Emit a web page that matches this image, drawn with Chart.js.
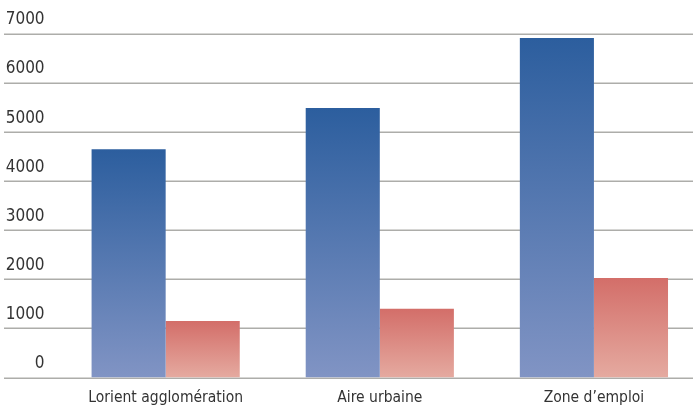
<!DOCTYPE html>
<html>
<head>
<meta charset="utf-8">
<script src="https://cdn.jsdelivr.net/npm/chart.js@4/dist/chart.umd.min.js"></script>
<style>
  html, body { margin: 0; padding: 0; background: #fff; overflow: hidden; }
  #wrap { position: relative; width: 701px; height: 409px; }
</style>
</head>
<body>
<div id="wrap"><canvas id="chart"></canvas></div>
<script>
const categories = ['Lorient agglomération', 'Aire urbaine', 'Zone d\u2019emploi'];
const blueValues = [4650, 5490, 6920];
const redValues = [1150, 1400, 2030];
const yTicks = [0, 1000, 2000, 3000, 4000, 5000, 6000, 7000];

const FONT = "'DejaVu Sans Condensed', 'Liberation Sans', sans-serif";

// gradient from the top of each bar down to the zero line
function barGradient(top, bottom) {
  return function(ctx) {
    const chart = ctx.chart;
    const y = chart.scales.y;
    if (!y || ctx.type !== 'data') return top;
    const y0 = y.getPixelForValue(ctx.raw);
    const y1 = y.getPixelForValue(0);
    if (!isFinite(y0) || !isFinite(y1)) return top;
    const g = chart.ctx.createLinearGradient(0, y0, 0, y1);
    g.addColorStop(0, top);
    g.addColorStop(1, bottom);
    return g;
  };
}

// horizontal grid lines run the full width, under the tick labels
const fullGrid = {
  id: 'fullGrid',
  beforeDatasetsDraw(chart) {
    const c = chart.ctx;
    const y = chart.scales.y;
    c.save();
    c.strokeStyle = '#adadaa';
    c.lineWidth = 1.5;
    y.ticks.forEach(t => {
      const py = Math.round(y.getPixelForValue(t.value)) + 0.25;
      c.beginPath();
      c.moveTo(4, py);
      c.lineTo(chart.width, py);
      c.stroke();
    });
    c.restore();
  }
};

new Chart(document.getElementById('chart'), {
  type: 'bar',
  data: {
    labels: categories,
    datasets: [{
      data: blueValues,
      backgroundColor: barGradient('#2c5e9e', '#8194c4'),
      borderWidth: 0
    }, {
      data: redValues,
      backgroundColor: barGradient('#d36e69', '#e5aaa0'),
      borderWidth: 0
    }]
  },
  options: {
    responsive: true,
    maintainAspectRatio: false,
    animation: false,
    categoryPercentage: 0.692,
    barPercentage: 1,
    layout: { padding: { top: 34, right: 0, bottom: -9.5, left: 0 } },
    plugins: { legend: { display: false }, tooltip: { enabled: false } },
    scales: {
      x: {
        grid: { display: false, drawTicks: false },
        border: { display: false },
        ticks: {
          color: '#333',
          padding: 9.5,
          maxRotation: 0,
          font: { family: FONT, size: 15.5, lineHeight: '22px' }
        }
      },
      y: {
        min: 0,
        max: 7000,
        afterBuildTicks(scale) {
          scale.ticks = yTicks.map(v => ({ value: v }));
        },
        afterFit(scale) { scale.width = 58.6; },
        grid: { display: false, drawTicks: false },
        border: { display: false },
        ticks: {
          color: '#333',
          padding: 14,
          labelOffset: -14,
          font: { family: FONT, size: 17 },
          callback: v => String(v)
        }
      }
    }
  },
  plugins: [fullGrid]
});
</script>
</body>
</html>
